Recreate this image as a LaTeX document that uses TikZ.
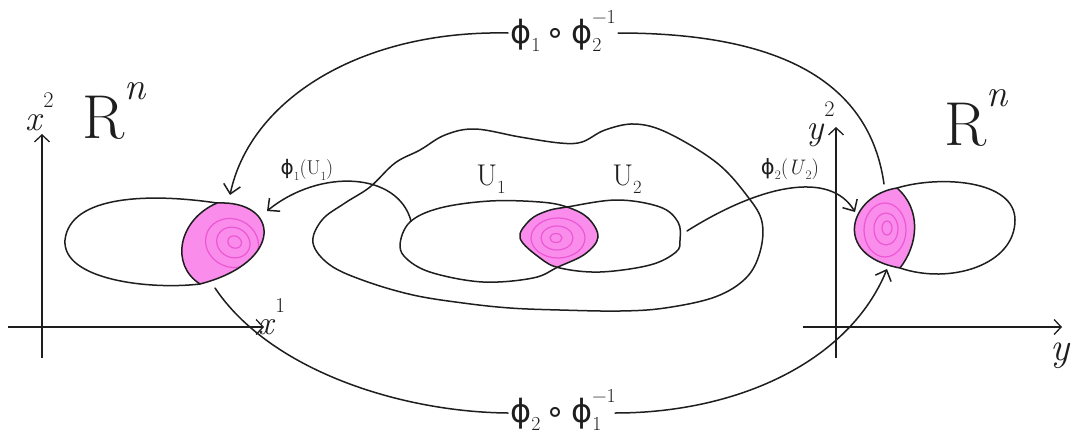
\documentclass[tikz,border=0pt]{standalone}
\usepackage{fontspec}
\newfontfamily\gkfont{DejaVu Sans}
\usetikzlibrary{arrows.meta}
\definecolor{ink}{RGB}{30,30,30}
\definecolor{pinkfill}{RGB}{250,140,235}
\definecolor{pinkline}{RGB}{236,88,212}
\newcommand\mysub[1]{\raisebox{-0.28em}{\scalebox{0.62}{#1}}}
\newcommand\mysup[1]{\raisebox{0.62em}{\scalebox{0.62}{#1}}}
\newcommand\mysubsup[2]{\makebox[0pt][l]{\mysub{#1}}\mysup{#2}}
\newcommand\phig{{\gkfont ϕ}}
\newcommand\compo{{\gkfont\,∘\,}}
\tikzset{
  stroke/.style={draw=ink, line width=1.5pt, line cap=round, line join=round},
  maparrow/.style={stroke, -{Straight Barb[length=9pt,width=17pt,line width=1.5pt]}},
  axisline/.style={draw=ink, line width=1.3pt, -{Straight Barb[length=7pt,width=15pt,line width=1.3pt]}},
  swirl/.style={draw=pinkline, line width=1.2pt},
  lab/.style={inner sep=0pt, text=ink},
}
\begin{document}
\begin{tikzpicture}[x=1pt,y=-1pt]
\useasboundingbox (0,0) rectangle (1078,445);
\fill[white] (0,0) rectangle (1078,445);

% ---------- axes ----------
\coordinate (LxS) at (8,327);   \coordinate (LxE) at (264,327);
\coordinate (LyS) at (42,358);  \coordinate (LyE) at (42,134);
\coordinate (RxS) at (803,327); \coordinate (RxE) at (1062,327);
\coordinate (RyS) at (836,358); \coordinate (RyE) at (836,127);
\draw[axisline] (LxS) -- (LxE);
\draw[axisline] (LyS) -- (LyE);
\draw[axisline] (RxS) -- (RxE);
\draw[axisline] (RyS) -- (RyE);

\node[lab, anchor=base west, font=\fontsize{36}{40}\selectfont] (x2lab) at (25,130) {\textit{x}\mysup{2}};
\node[lab, anchor=base west, font=\fontsize{34}{40}\selectfont] (x1lab) at (258,334) {\textit{x}\mysup{1}};
\node[lab, anchor=base west, font=\fontsize{62}{70}\selectfont] (RnL) at (82,138) {R\mysup{\textit{n}}};
\node[lab, anchor=base west, font=\fontsize{36}{40}\selectfont] (y2lab) at (806,139) {\textit{y}\mysup{2}};
\node[lab, anchor=base west, font=\fontsize{40}{44}\selectfont] (ylab) at (1050,360) {\textit{y}};
\node[lab, anchor=base west, font=\fontsize{62}{70}\selectfont] (RnR) at (944,145) {R\mysup{\textit{n}}};

% ---------- left blob ----------
\coordinate (LT) at (217,203);
\coordinate (LB) at (200,284);
\fill[pinkfill] (LT) .. controls (280,200) and (285,262) .. (LB) .. controls (170,265) and (178,220) .. (LT);
\begin{scope}
  \clip (LT) .. controls (280,200) and (285,262) .. (LB) .. controls (170,265) and (178,220) .. (LT);
  \draw[swirl, rotate around={-25:(232,243)}] (232,243) ellipse [x radius=27, y radius=24];
  \draw[swirl, rotate around={-25:(232,243)}] (233,242) ellipse [x radius=17, y radius=15];
  \draw[swirl, rotate around={-25:(232,243)}] (234,241) ellipse [x radius=7, y radius=6];
\end{scope}
\draw[stroke] (LT) .. controls (280,200) and (285,262) .. (LB) .. controls (170,265) and (178,220) .. (LT);
\draw[stroke] (LT) .. controls (150,193) and (70,195) .. (65,240) .. controls (62,280) and (150,290) .. (LB);

% ---------- right blob ----------
\coordinate (RT) at (897,188);
\coordinate (RB) at (900,268);
\fill[pinkfill] (RT) .. controls (850,195) and (830,255) .. (RB) .. controls (918,245) and (922,210) .. (RT);
\begin{scope}
  \clip (RT) .. controls (850,195) and (830,255) .. (RB) .. controls (918,245) and (922,210) .. (RT);
  \draw[swirl] (885,230) ellipse [x radius=21, y radius=27];
  \draw[swirl] (886,229) ellipse [x radius=12, y radius=16];
  \draw[swirl] (887,228) ellipse [x radius=5, y radius=7];
\end{scope}
\draw[stroke] (RT) .. controls (850,195) and (830,255) .. (RB) .. controls (918,245) and (922,210) .. (RT);
\draw[stroke] (RT) .. controls (940,175) and (1015,180) .. (1015,220) .. controls (1015,265) and (950,285) .. (RB);

% ---------- manifold ----------
\draw[stroke] plot[smooth cycle, tension=0.6] coordinates {(313,243) (322,220) (345,203) (370,187) (395,163) (420,150) (445,135) (475,129) (520,137) (560,143) (582,142) (605,130) (635,124) (668,133) (717,163) (748,197) (762,222) (760,252) (746,278) (715,297) (665,308) (620,311) (560,310) (510,308) (463,303) (413,295) (365,281) (330,265)};

\begin{scope}
  \clip plot[smooth cycle, tension=0.6] coordinates {(400,245) (410,222) (440,208) (490,201) (540,202) (567,207) (588,218) (598,237) (585,254) (558,267) (533,278) (483,282) (433,273) (408,260)};
  \fill[pinkfill] plot[smooth cycle, tension=0.6] coordinates {(567,207) (617,200) (660,207) (678,222) (680,240) (676,252) (650,265) (600,272) (560,268) (540,258) (520,238) (530,220) (547,211)};
  \draw[swirl] (558,238) ellipse [x radius=27, y radius=20];
  \draw[swirl] (557,238) ellipse [x radius=16, y radius=12];
  \draw[swirl] (556,238) ellipse [x radius=6, y radius=4.5];
\end{scope}
\draw[stroke] plot[smooth cycle, tension=0.6] coordinates {(400,245) (410,222) (440,208) (490,201) (540,202) (567,207) (588,218) (598,237) (585,254) (558,267) (533,278) (483,282) (433,273) (408,260)};
\draw[stroke] plot[smooth cycle, tension=0.6] coordinates {(567,207) (617,200) (660,207) (678,222) (680,240) (676,252) (650,265) (600,272) (560,268) (540,258) (520,238) (530,220) (547,211)};

\node[lab, font=\fontsize{30}{34}\selectfont] (U1lab) at (491,179) {U\mysub{1}};
\node[lab, font=\fontsize{30}{34}\selectfont] (U2lab) at (627,179) {U\mysub{2}};

% ---------- chart maps ----------
\coordinate (U1a) at (411,221);
\coordinate (LtipA) at (267,211);
\draw[maparrow] (U1a) .. controls (398,172) and (320,168) .. (LtipA);
\node[lab, font=\fontsize{20}{24}\selectfont] (p1lab) at (307,170) {\phig\mysub{1}(U\mysub{1})};

\coordinate (U2a) at (687,231);
\coordinate (RtipA) at (855,212);
\draw[maparrow] (U2a) .. controls (760,185) and (830,170) .. (RtipA);
\node[lab, font=\fontsize{21}{24}\selectfont] (p2lab) at (790,169) {\phig\mysub{2}(\textit{U}\mysub{2})};

% ---------- transition maps ----------
\node[lab, anchor=base, font=\fontsize{32}{36}\selectfont] (toplab) at (563,43) {\phig\mysub{1}\compo\phig\mysubsup{2}{−1}};
\coordinate (tA) at (618,33);
\coordinate (tB) at (508,33);
\coordinate (Rtop) at (884,184);
\coordinate (Ltip) at (230,195);
\draw[stroke] (Rtop) .. controls (868,70) and (760,33) .. (tA);
\draw[maparrow] (tB) .. controls (360,30) and (250,100) .. (Ltip);

\node[lab, anchor=base, font=\fontsize{32}{36}\selectfont] (botlab) at (563,422) {\phig\mysub{2}\compo\phig\mysubsup{1}{−1}};
\coordinate (bA) at (508,413);
\coordinate (bB) at (615,413);
\coordinate (Lbot) at (215,288);
\coordinate (Rtip) at (887,269);
\draw[stroke] (Lbot) .. controls (270,370) and (400,412) .. (bA);
\draw[maparrow] (bB) .. controls (740,413) and (850,360) .. (Rtip);
\end{tikzpicture}
\end{document}
